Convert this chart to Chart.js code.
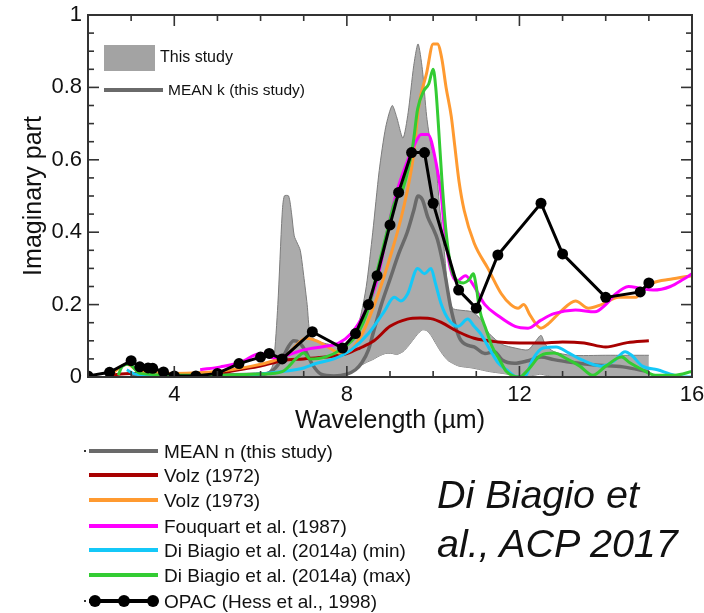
<!DOCTYPE html>
<html><head><meta charset="utf-8">
<script src="https://cdn.jsdelivr.net/npm/chart.js@4.4.1/dist/chart.umd.min.js"></script>
<style>
html,body{margin:0;padding:0;background:#fff;}
#wrap{position:relative;width:704px;height:613px;font-family:"Liberation Sans",Arial,sans-serif;color:#111;overflow:hidden;}
canvas{position:absolute;left:0;top:0;}
.t{position:absolute;white-space:nowrap;}
.sw{position:absolute;}
</style></head><body>
<div id="wrap">
<canvas id="c" width="704" height="613"></canvas>
</div>
<script>
// ---------- data ----------
const xTicks = [4, 8, 12, 16];
const yTicks = [0, 0.2, 0.4, 0.6, 0.8, 1];

// "This study" envelope
const bandX    = [3.0, 3.5, 4, 4.5, 5, 5.5, 6.0, 6.2, 6.3, 6.4, 6.5, 6.55, 6.65, 6.72, 6.78, 6.85, 6.92, 7.0, 7.08, 7.15, 7.3, 7.6, 7.9, 8.1, 8.3, 8.45, 8.6, 8.75, 8.9, 9.05, 9.15, 9.3, 9.42, 9.55, 9.65, 9.75, 9.85, 9.95, 10.05, 10.15, 10.25, 10.35, 10.45, 10.6, 10.9, 11.1, 11.3, 11.6, 11.9, 12.2, 12.35, 12.5, 12.6, 12.8, 13.2, 14, 15];
const bandHigh = [0.012, 0.012, 0.01, 0.01, 0.01, 0.01, 0.012, 0.015, 0.04, 0.20, 0.45, 0.50, 0.50, 0.45, 0.39, 0.37, 0.35, 0.28, 0.20, 0.12, 0.10, 0.09, 0.085, 0.10, 0.16, 0.25, 0.40, 0.57, 0.69, 0.75, 0.72, 0.66, 0.73, 0.86, 0.92, 0.85, 0.72, 0.64, 0.60, 0.47, 0.36, 0.23, 0.19, 0.185, 0.18, 0.16, 0.12, 0.09, 0.08, 0.075, 0.095, 0.115, 0.09, 0.07, 0.06, 0.06, 0.06];
const bandLow  = [0, 0, 0, 0, 0, 0, 0, 0, 0, 0, 0, 0, 0, 0, 0, 0, 0, 0, 0, 0, 0, 0, 0.005, 0.015, 0.03, 0.04, 0.048, 0.058, 0.065, 0.065, 0.062, 0.07, 0.085, 0.105, 0.12, 0.13, 0.128, 0.115, 0.095, 0.075, 0.058, 0.045, 0.038, 0.03, 0.025, 0.02, 0.015, 0.01, 0.005, 0.003, 0.005, 0.008, 0.005, 0.003, 0.003, 0.003, 0.003];

// MEAN k (this study)
const meanX = [3.0, 4, 5, 6, 6.3, 6.5, 6.65, 6.77, 6.9, 7.05, 7.2, 7.4, 7.7, 8.0, 8.2, 8.35, 8.5, 8.63, 8.8, 9.0, 9.2, 9.4, 9.55, 9.65, 9.75, 9.88, 10.0, 10.1, 10.25, 10.42, 10.65, 10.95, 11.2, 11.42, 11.6, 11.88, 12.2, 12.5, 12.8, 13.1, 13.75, 14.4, 15.0];
const meanK = [0.005, 0.005, 0.005, 0.006, 0.02, 0.05, 0.085, 0.10, 0.095, 0.07, 0.035, 0.008, 0.003, 0.008, 0.02, 0.04, 0.075, 0.13, 0.20, 0.27, 0.34, 0.40, 0.46, 0.50, 0.49, 0.44, 0.41, 0.38, 0.30, 0.185, 0.10, 0.083, 0.065, 0.07, 0.047, 0.038, 0.045, 0.055, 0.048, 0.042, 0.033, 0.028, 0.014];

// Volz (1972)
const volz72X = [2.5, 3, 4, 5, 5.5, 6, 6.5, 7, 7.5, 8.0, 8.3, 8.63, 9.0, 9.4, 9.7, 10.0, 10.2, 10.58, 10.95, 11.5, 12.0, 12.5, 13.0, 13.5, 14.0, 14.5, 15.0];
const volz72K = [0.005, 0.01, 0.008, 0.01, 0.02, 0.03, 0.045, 0.05, 0.055, 0.065, 0.08, 0.10, 0.14, 0.16, 0.163, 0.16, 0.15, 0.125, 0.107, 0.097, 0.094, 0.094, 0.097, 0.094, 0.083, 0.095, 0.10];

// Volz (1973)
const volz73X = [2.5, 2.9, 3.2, 4, 5, 5.8, 6.3, 6.6, 6.85, 7.05, 7.3, 7.6, 7.85, 8.1, 8.4, 8.7, 9.0, 9.3, 9.53, 9.67, 9.85, 10.0, 10.1, 10.2, 10.3, 10.42, 10.5, 10.6, 10.72, 10.95, 11.27, 11.58, 11.8, 11.97, 12.1, 12.25, 12.5, 12.65, 12.95, 13.3, 13.6, 13.9, 14.3, 14.7, 14.85, 15.1, 15.5, 16.0];
const volz73K = [0.005, 0.035, 0.015, 0.01, 0.015, 0.03, 0.045, 0.06, 0.09, 0.107, 0.10, 0.08, 0.066, 0.075, 0.13, 0.22, 0.33, 0.46, 0.60, 0.75, 0.84, 0.92, 0.92, 0.88, 0.80, 0.72, 0.64, 0.54, 0.46, 0.37, 0.30, 0.23, 0.20, 0.19, 0.20, 0.17, 0.135, 0.145, 0.18, 0.21, 0.19, 0.20, 0.22, 0.22, 0.24, 0.26, 0.27, 0.28];

// Fouquart et al. (1987)
const fouqX = [4.6, 5.07, 5.53, 6.0, 6.28, 6.6, 7.0, 7.5, 7.8, 8.1, 8.4, 8.63, 8.8, 8.95, 9.18, 9.45, 9.6, 9.72, 9.88, 10.07, 10.19, 10.26, 10.4, 10.55, 10.75, 10.9, 11.2, 11.5, 11.9, 12.2, 12.5, 12.8, 13.3, 13.75, 14.0, 14.2, 14.53, 14.8, 15.1, 15.5, 15.8, 16.0];
const fouqK = [0.02, 0.028, 0.04, 0.065, 0.053, 0.06, 0.075, 0.085, 0.093, 0.12, 0.175, 0.24, 0.32, 0.41, 0.52, 0.61, 0.65, 0.67, 0.67, 0.59, 0.50, 0.41, 0.30, 0.265, 0.28, 0.26, 0.20, 0.17, 0.14, 0.135, 0.157, 0.175, 0.185, 0.18, 0.20, 0.226, 0.25, 0.245, 0.24, 0.25, 0.27, 0.285];

// Di Biagio et al. (2014a) (min)
const dbMinX = [2.9, 3.1, 3.5, 4, 5, 6, 6.5, 7, 7.3, 7.7, 8.1, 8.5, 8.86, 9.1, 9.25, 9.41, 9.64, 9.8, 9.95, 10.05, 10.19, 10.35, 10.58, 10.8, 10.95, 11.1, 11.28, 11.5, 11.7, 11.95, 12.15, 12.3, 12.55, 12.85, 13.15, 13.45, 13.9, 14.2, 14.45, 14.6, 14.85, 15.2, 15.5, 15.8, 16.0];
const dbMinK = [0.02, 0.008, 0.005, 0.003, 0.003, 0.008, 0.015, 0.025, 0.038, 0.05, 0.075, 0.12, 0.18, 0.22, 0.21, 0.23, 0.30, 0.285, 0.30, 0.26, 0.20, 0.16, 0.14, 0.16, 0.14, 0.12, 0.083, 0.04, 0.02, 0.0, 0.005, 0.047, 0.08, 0.083, 0.066, 0.047, 0.03, 0.045, 0.07, 0.06, 0.03, 0.02, 0.008, 0.0, 0.0];

// Di Biagio et al. (2014a) (max)
const dbMaxX = [2.7, 2.8, 2.95, 3.2, 4, 5, 6, 6.5, 6.86, 7.0, 7.15, 7.5, 7.85, 8.25, 8.5, 8.72, 8.95, 9.1, 9.3, 9.53, 9.64, 9.78, 9.9, 10.0, 10.06, 10.12, 10.2, 10.3, 10.42, 10.53, 10.7, 10.84, 10.93, 11.0, 11.07, 11.23, 11.37, 11.53, 11.7, 12.0, 12.2, 12.5, 12.8, 13.1, 13.4, 13.7, 14.0, 14.37, 14.55, 14.85, 15.15, 15.6, 16.0];
const dbMaxK = [0.005, 0.03, 0.035, 0.01, 0.005, 0.005, 0.008, 0.015, 0.055, 0.066, 0.05, 0.055, 0.075, 0.12, 0.19, 0.30, 0.41, 0.48, 0.52, 0.64, 0.74, 0.79, 0.81, 0.85, 0.80, 0.70, 0.55, 0.40, 0.30, 0.27, 0.26, 0.27, 0.285, 0.25, 0.19, 0.13, 0.083, 0.05, 0.015, 0.0, 0.02, 0.06, 0.066, 0.05, 0.03, 0.005, 0.03, 0.055, 0.04, 0.02, 0.005, 0.005, 0.015];

// OPAC (Hess et al., 1998)
const opacX = [2.0, 2.5, 3.0, 3.2, 3.392, 3.5, 3.75, 4.0, 4.5, 5.0, 5.5, 6.0, 6.2, 6.5, 7.2, 7.9, 8.2, 8.5, 8.7, 9.0, 9.2, 9.5, 9.8, 10.0, 10.591, 11.0, 11.5, 12.5, 13.0, 14.0, 14.8, 15.0];
const opacK = [0.003, 0.013, 0.045, 0.028, 0.025, 0.024, 0.014, 0.003, 0.003, 0.01, 0.037, 0.055, 0.065, 0.05, 0.125, 0.08, 0.12, 0.20, 0.28, 0.42, 0.51, 0.62, 0.62, 0.48, 0.24, 0.19, 0.337, 0.48, 0.34, 0.22, 0.235, 0.26];

const legendTop = ['This study', 'MEAN k (this study)'];
const legendBottom = ['MEAN n (this study)', 'Volz (1972)', 'Volz (1973)', 'Fouquart et al. (1987)', 'Di Biagio et al. (2014a) (min)', 'Di Biagio et al. (2014a) (max)', 'OPAC (Hess et al., 1998)'];
const citation = ['Di Biagio et', 'al., ACP 2017'];

// ---------- styling ----------
const FONT = '"Liberation Sans", Arial, sans-serif';
const C = {band:'#ababab', bandEdge:'#7c7c7c', mean:'#6a6a6a', v72:'#a80000', v73:'#ff9a30', fq:'#ff00ff', dmin:'#14c8f8', dmax:'#33cc33', opac:'#000000'};
const pts = (xs, ys) => xs.map((x, i) => ({x, y: ys[i]}));
const lineDs = (label, xs, ys, color, order, w) => ({
  label, data: pts(xs, ys), borderColor: color, backgroundColor: color, borderWidth: w || 3,
  pointRadius: 0, fill: false, cubicInterpolationMode: 'monotone', order
});

const datasets = [
  {label:'band low', data: pts(bandX, bandLow), borderColor:C.bandEdge, borderWidth:1, pointRadius:0, fill:false, tension:0.25, order:9},
  {label:'This study', data: pts(bandX, bandHigh), borderColor:C.bandEdge, borderWidth:1, pointRadius:0, fill:0, backgroundColor:C.band, tension:0.25, order:8},
  lineDs('Volz (1972)', volz72X, volz72K, C.v72, 6),
  lineDs('MEAN k (this study)', meanX, meanK, C.mean, 7, 3.5),
  lineDs('Volz (1973)', volz73X, volz73K, C.v73, 5),
  lineDs('Fouquart et al. (1987)', fouqX, fouqK, C.fq, 4),
  lineDs('Di Biagio et al. (2014a) (min)', dbMinX, dbMinK, C.dmin, 3),
  lineDs('Di Biagio et al. (2014a) (max)', dbMaxX, dbMaxK, C.dmax, 2),
  {label:'OPAC (Hess et al., 1998)', data: pts(opacX, opacK), borderColor:C.opac, backgroundColor:C.opac, borderWidth:3,
   pointRadius:5.5, pointBorderWidth:0, tension:0, fill:false, order:1}
];

const frameTicks = {
  id: 'frameTicks',
  afterDatasetsDraw(chart) {
    const {ctx, chartArea: a, scales: {x, y}} = chart;
    ctx.save();
    ctx.strokeStyle = '#333';
    ctx.lineWidth = 1.6;
    const seg = (x1, y1, x2, y2) => { ctx.beginPath(); ctx.moveTo(x1, y1); ctx.lineTo(x2, y2); ctx.stroke(); };
    for (let v = Math.ceil(x.min); v <= x.max; v += 1) {
      const px = x.getPixelForValue(v);
      const len = (v % 4 === 0) ? 11 : 6;
      seg(px, a.bottom, px, a.bottom - len);
      seg(px, a.top, px, a.top + len);
    }
    for (let i = 0; i <= 20; i++) {
      const v = i * 0.05;
      const py = y.getPixelForValue(v);
      const len = (i % 4 === 0) ? 11 : 6;
      seg(a.left, py, a.left + len, py);
      seg(a.right, py, a.right - len, py);
    }
    ctx.lineWidth = 2;
    ctx.strokeRect(a.left, a.top, a.right - a.left, a.bottom - a.top);
    ctx.restore();
  }
};

new Chart(document.getElementById('c'), {
  type: 'line',
  data: {datasets},
  options: {
    responsive: false, animation: false, devicePixelRatio: 1,
    layout: {padding: {left: 0, top: 15, right: 12, bottom: 176}},
    plugins: {legend: {display: false}, tooltip: {enabled: false}},
    scales: {
      x: {
        type: 'linear', min: 2, max: 16,
        grid: {display: false, drawTicks: false}, border: {display: false},
        afterBuildTicks(s) { s.ticks = xTicks.map(v => ({value: v})); },
        afterFit(s) { s.height = 60; s.paddingLeft = 0; s.paddingRight = 0; },
        ticks: {font: {size: 22, family: FONT}, color: '#111', padding: 5, maxRotation: 0, autoSkip: false, callback: v => String(v)},
        title: {display: true, text: 'Wavelength (µm)', font: {size: 25, family: FONT}, color: '#111', padding: {top: 0, bottom: 1}}
      },
      y: {
        type: 'linear', min: 0, max: 1,
        grid: {display: false, drawTicks: false}, border: {display: false},
        afterBuildTicks(s) { s.ticks = yTicks.map(v => ({value: v})); },
        afterFit(s) { s.width = 88; s.paddingTop = 0; s.paddingBottom = 0; },
        ticks: {font: {size: 22, family: FONT}, color: '#111', padding: 6, autoSkip: false, callback: v => String(v)},
        title: {display: true, text: 'Imaginary part', font: {size: 25, family: FONT}, color: '#111', padding: {top: 19, bottom: 0}}
      }
    }
  },
  plugins: [frameTicks]
});

// ---------- HTML legends / annotation ----------
const wrap = document.getElementById('wrap');
function el(cls, css, text) {
  const d = document.createElement('div');
  d.className = cls; d.style.cssText = css;
  if (text !== undefined) d.textContent = text;
  wrap.appendChild(d); return d;
}
// top legend (inside plot)
el('sw', 'left:104px;top:45px;width:51px;height:26px;background:#a3a3a3;');
el('t', `left:160px;top:49px;font-size:16px;line-height:16px;`, legendTop[0]);
el('sw', `left:104px;top:88px;width:59px;height:4px;background:${C.mean};`);
el('t', `left:168px;top:82px;font-size:15.5px;line-height:15.5px;`, legendTop[1]);

// bottom legend
const rowY = [451, 475, 500, 526, 550, 575, 601];
const rowC = [C.mean, C.v72, C.v73, C.fq, C.dmin, C.dmax, C.opac];
legendBottom.forEach((lab, i) => {
  const yy = rowY[i];
  el('sw', `left:89px;top:${yy - 2}px;width:69px;height:4px;background:${rowC[i]};`);
  if (i === 0 || i === 6) el('sw', `left:84px;top:${yy - 1}px;width:2px;height:2px;background:#333;`);
  if (i === 6) [95, 124, 153].forEach(cx => el('sw', `left:${cx - 6}px;top:${yy - 6}px;width:12px;height:12px;border-radius:50%;background:#000;`));
  el('t', `left:164px;top:${yy - 9.5}px;font-size:19px;line-height:19px;`, lab);
});
// citation
el('t', 'left:437px;top:474px;font-size:39.5px;line-height:40px;font-style:italic;', citation[0]);
el('t', 'left:437px;top:523px;font-size:39.5px;line-height:40px;font-style:italic;', citation[1]);
</script>
</body></html>
